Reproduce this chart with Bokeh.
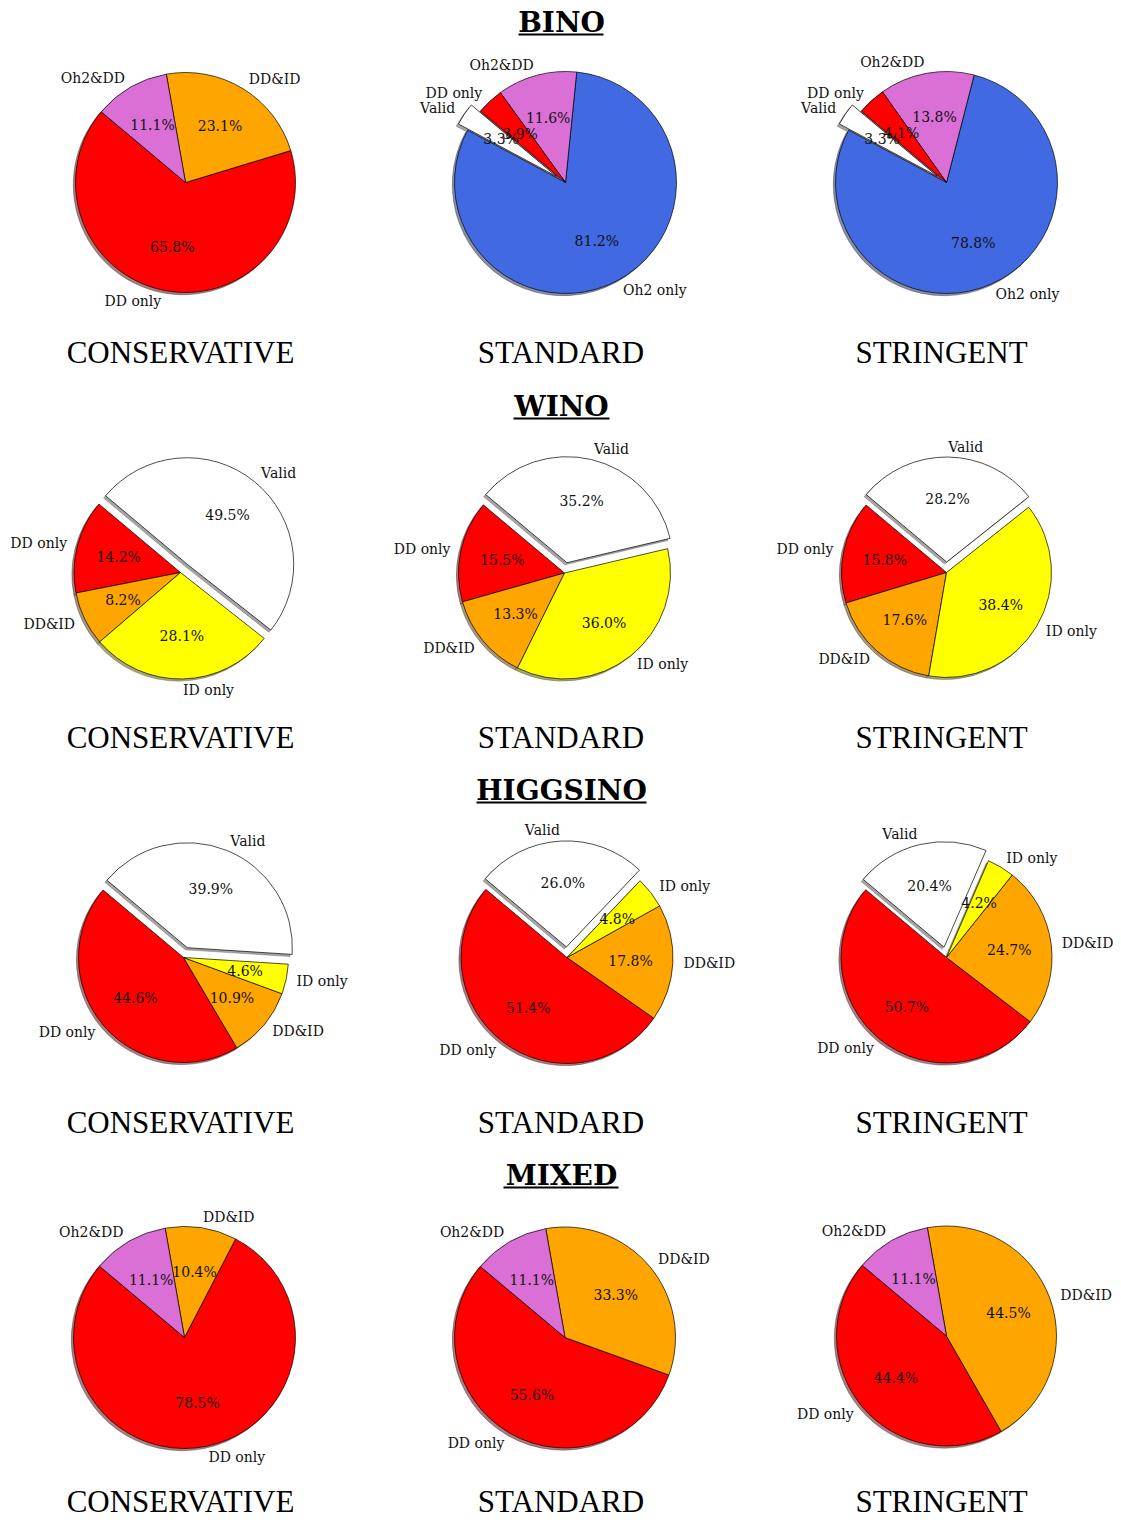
import math
from bokeh.plotting import figure
from bokeh.models import ColumnDataSource
from bokeh.core.properties import value
from bokeh.embed import file_html
from bokeh.resources import INLINE

# ---------------- data ----------------
models = ["BINO", "WINO", "HIGGSINO", "MIXED"]
scenarios = ["CONSERVATIVE", "STANDARD", "STRINGENT"]

# slice labels / percentages, listed counter-clockwise from the start angle
bino_labels = [["DD only", "DD&ID", "Oh2&DD"],
               ["Valid", "Oh2 only", "Oh2&DD", "DD only"],
               ["Valid", "Oh2 only", "Oh2&DD", "DD only"]]
bino_values = [[65.8, 23.1, 11.1],
               [3.3, 81.2, 11.6, 3.9],
               [3.3, 78.8, 13.8, 4.1]]

wino_labels = [["DD only", "DD&ID", "ID only", "Valid"],
               ["DD only", "DD&ID", "ID only", "Valid"],
               ["DD only", "DD&ID", "ID only", "Valid"]]
wino_values = [[14.2, 8.2, 28.1, 49.5],
               [15.5, 13.3, 36.0, 35.2],
               [15.8, 17.6, 38.4, 28.2]]

higgsino_labels = [["DD only", "DD&ID", "ID only", "Valid"],
                   ["DD only", "DD&ID", "ID only", "Valid"],
                   ["DD only", "DD&ID", "ID only", "Valid"]]
higgsino_values = [[44.6, 10.9, 4.6, 39.9],
                   [51.4, 17.8, 4.8, 26.0],
                   [50.7, 24.7, 4.2, 20.4]]

mixed_labels = [["DD only", "DD&ID", "Oh2&DD"],
                ["DD only", "DD&ID", "Oh2&DD"],
                ["DD only", "DD&ID", "Oh2&DD"]]
mixed_values = [[78.5, 10.4, 11.1],
                [55.6, 33.3, 11.1],
                [44.4, 44.5, 11.1]]

slice_colors = {
    "DD only": "#ff0000",
    "DD&ID": "#ffa500",
    "ID only": "#ffff00",
    "Oh2&DD": "#da70d6",
    "Oh2 only": "#4169e1",
    "Valid": "#ffffff",
}
exploded = {"Valid": 0.1}

all_labels = [bino_labels, wino_labels, higgsino_labels, mixed_labels]
all_values = [bino_values, wino_values, higgsino_values, mixed_values]

# ---------------- layout (reference pixel coordinates) ----------------
W, H = 1113, 1520
X0, Y0 = 4, 8            # reference pixel shown at the figure's top-left
REF_H = 1528


def Y(yref):
    return REF_H - yref


pie_cx = [[189, 569, 950], [184, 568, 950], [187, 570.5, 950], [188, 568.5, 950]]
pie_cy = [[190, 190, 190], [580, 580.5, 580], [965, 965, 965], [1345, 1345, 1343.5]]
pie_r = [[110, 111, 111], [106.5, 106, 105], [105, 106, 105.5], [111, 110.5, 110]]
START = 140.0

title_y = [30, 414, 798, 1183]
title_x = 565
underline_ext = [(522, 607), (517, 613), (480, 650), (507, 622)]
underline_dy = 12
scen_x = [184, 564.5, 945]
scen_y = [360, 745, 1130, 1509]


def darker(hexcol, f=0.3):
    h = hexcol.lstrip("#")
    r, g, b = (int(h[k:k + 2], 16) for k in (0, 2, 4))
    return "#%02x%02x%02x" % (int(r * f), int(g * f), int(b * f))


wed = dict(x=[], y=[], r=[], s=[], e=[], fill=[])
sha = dict(x=[], y=[], r=[], s=[], e=[], fill=[])
lab_l = dict(x=[], y=[], t=[])
lab_r = dict(x=[], y=[], t=[])
pct = dict(x=[], y=[], t=[])

for i in range(len(models)):
    for j in range(len(scenarios)):
        labs = all_labels[i][j]
        vals = all_values[i][j]
        cx, cy, r = pie_cx[i][j], Y(pie_cy[i][j]), pie_r[i][j]
        total = sum(vals)
        theta = START
        for lab, v in zip(labs, vals):
            span = 360.0 * v / total
            t1, t2 = theta, theta + span
            mid = math.radians((t1 + t2) / 2)
            ex = exploded.get(lab, 0.0) * r
            x = cx + ex * math.cos(mid)
            y = cy + ex * math.sin(mid)
            col = slice_colors[lab]
            wed["x"].append(x); wed["y"].append(y); wed["r"].append(r)
            wed["s"].append(math.radians(t1)); wed["e"].append(math.radians(t2))
            wed["fill"].append(col)
            sha["x"].append(x - 0.02 * r); sha["y"].append(y - 0.02 * r); sha["r"].append(r)
            sha["s"].append(math.radians(t1)); sha["e"].append(math.radians(t2))
            sha["fill"].append(darker(col))
            lx = x + 1.1 * r * math.cos(mid)
            ly = y + 1.1 * r * math.sin(mid)
            tgt = lab_l if math.cos(mid) > 0 else lab_r
            tgt["x"].append(lx); tgt["y"].append(ly); tgt["t"].append(lab)
            pct["x"].append(x + 0.6 * r * math.cos(mid))
            pct["y"].append(y + 0.6 * r * math.sin(mid))
            pct["t"].append("%.1f%%" % v)
            theta = t2

p = figure(width=W, height=H, x_range=(X0, X0 + W), y_range=(Y(Y0 + H), Y(Y0)),
           output_backend="svg", toolbar_location=None,
           x_axis_location=None, y_axis_location=None, min_border=0)
p.grid.visible = False
p.outline_line_color = None
p.background_fill_color = "white"
p.border_fill_color = "white"

p.wedge(x="x", y="y", radius="r", start_angle="s", end_angle="e", direction="anticlock",
        fill_color="fill", line_color="fill", fill_alpha=0.5, line_alpha=0.5, line_width=0.7,
        source=ColumnDataSource(sha))
p.wedge(x="x", y="y", radius="r", start_angle="s", end_angle="e", direction="anticlock",
        fill_color="fill", line_color="black", line_width=0.7,
        source=ColumnDataSource(wed))

serif = value("DejaVu Serif")
p.text(x="x", y="y", text="t", source=ColumnDataSource(lab_l), text_font=serif,
       text_font_size="14px", text_align="left", text_baseline="middle", text_color="#111111")
p.text(x="x", y="y", text="t", source=ColumnDataSource(lab_r), text_font=serif,
       text_font_size="14px", text_align="right", text_baseline="middle", text_color="#111111")
p.text(x="x", y="y", text="t", source=ColumnDataSource(pct), text_font=serif,
       text_font_size="14px", text_align="center", text_baseline="middle", text_color="#111111")

# row titles, underlined
p.text(x=[title_x] * len(models), y=[Y(v) for v in title_y], text=models,
       text_font=serif, text_font_style="bold", text_font_size="28px",
       text_align="center", text_baseline="middle", text_color="black")
p.segment(x0=[a for a, b in underline_ext], x1=[b for a, b in underline_ext],
          y0=[Y(v + underline_dy) for v in title_y], y1=[Y(v + underline_dy) for v in title_y],
          line_color="black", line_width=2)

# scenario labels under each pie
sx, sy, st = [], [], []
for i in range(len(models)):
    for j, s in enumerate(scenarios):
        sx.append(scen_x[j]); sy.append(Y(scen_y[i])); st.append(s)
p.text(x=sx, y=sy, text=st, text_font=value("Liberation Serif"), text_font_size="31px",
       text_align="center", text_baseline="middle", text_color="black")

open("out.html", "w").write(file_html(p, INLINE))
